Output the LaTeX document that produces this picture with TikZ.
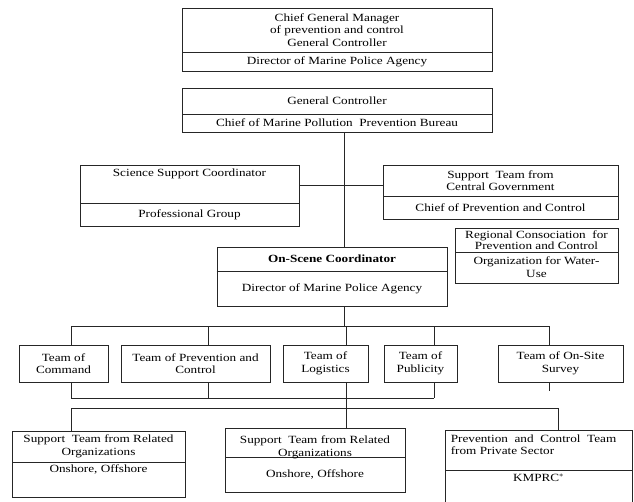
\documentclass[tikz,border=0pt]{standalone}
\usepackage{fontspec}
\setmainfont{Liberation Serif}[FakeStretch=1.2]
\begin{document}
\begin{tikzpicture}[x=1pt,y=-1pt,
  part/.style={draw=black!85, line width=0.8pt, inner sep=0pt, rectangle},
  txt/.style={font=\fontsize{11}{12.5}\selectfont, align=center, inner sep=0pt},
  con/.style={draw=black!85, line width=0.8pt}]
\useasboundingbox (0,0) rectangle (634,501);
% top box A
\node[part, minimum width=310pt, minimum height=44pt] (a1) at (337,30) {};
\node[part, minimum width=310pt, minimum height=19pt] (a2) at (337,61.5) {};
\node[txt] (a1t) at (a1) {Chief General Manager\\of prevention and control\\General Controller};
\node[txt] (a2t) at (a2) {Director of Marine Police Agency};
% box B
\node[part, minimum width=310pt, minimum height=26pt] (b1) at (337,101) {};
\node[part, minimum width=310pt, minimum height=18pt] (b2) at (337,123) {};
\node[txt] (b1t) at (b1) {General Controller};
\node[txt] (b2t) at (b2) {Chief of Marine Pollution\ \ Prevention Bureau};
% science
\node[part, minimum width=219pt, minimum height=38pt] (c1) at (189.5,184) {};
\node[part, minimum width=219pt, minimum height=23pt] (c2) at (189.5,214.5) {};
\node[txt, anchor=north] (c1t) at ([yshift=-4pt]c1.north) {Science\ Support\ Coordinator};
\node[txt] (c2t) at (c2) {Professional Group};
% support team central gov
\node[part, minimum width=235pt, minimum height=31pt] (d1) at (500.5,180.5) {};
\node[part, minimum width=235pt, minimum height=23pt] (d2) at (500.5,207.5) {};
\node[txt] (d1t) at (d1) {Support\ \ Team from\\Central Government};
\node[txt] (d2t) at (d2) {Chief of Prevention and Control};
% regional
\node[part, minimum width=163pt, minimum height=24pt] (e1) at (536.5,240) {};
\node[part, minimum width=163pt, minimum height=31pt] (e2) at (536.5,267.5) {};
\node[txt, font=\fontsize{11}{11.5}\selectfont] (e1t) at (e1) {Regional\ Consociation\ \ for\\Prevention and Control};
\node[txt, font=\fontsize{11}{13}\selectfont] (e2t) at (e2) {Organization for Water-\\Use};
% on-scene
\node[part, minimum width=230pt, minimum height=24pt] (f1) at (332,259) {};
\node[part, minimum width=230pt, minimum height=35pt] (f2) at (332,288.5) {};
\draw[line width=1.3pt, black!85, dash pattern=on 1.5pt off 0.4pt] (f1.south west) -- (f1.south east);
\node[txt, font=\bfseries\fontsize{11}{12.5}\selectfont] (f1t) at (f1) {On-Scene Coordinator};
\node[txt] (f2t) at (f2) {Director of Marine Police Agency};
% teams
\node[part, minimum width=89pt, minimum height=37pt] (t1) at (63.5,363.5) {};
\node[part, minimum width=149pt, minimum height=37pt] (t2) at (195.5,363.5) {};
\node[part, minimum width=85pt, minimum height=37pt] (t3) at (325.5,363.5) {};
\node[part, minimum width=73pt, minimum height=37pt] (t4) at (420.5,363.5) {};
\node[part, minimum width=125pt, minimum height=37pt] (t5) at (560.5,363.5) {};
\node[txt] (t1t) at (t1) {Team of\\Command};
\node[txt] (t2t) at (t2) {Team of Prevention and\\Control};
\node[txt] (t3t) at (t3) {Team of\\Logistics};
\node[txt] (t4t) at (t4) {Team of\\Publicity};
\node[txt] (t5t) at (t5) {Team of On-Site\\Survey};
% bottom boxes
\node[part, minimum width=173pt, minimum height=31pt] (g1) at (98.5,446.5) {};
\node[part, minimum width=173pt, minimum height=35pt] (g2) at (98.5,479.5) {};
\node[txt] (g1t) at (g1) {Support\ \ Team from Related\\Organizations};
\node[txt, anchor=north] (g2t) at ([yshift=-3pt]g2.north) {Onshore, Offshore};
\node[part, minimum width=180pt, minimum height=29pt] (h1) at (315,442.5) {};
\node[part, minimum width=180pt, minimum height=35pt] (h2) at (315,474.5) {};
\node[txt, anchor=south] (h1t) at ([yshift=-1.5pt]h1.south) {Support\ \ Team from Related\\Organizations};
\node[txt] (h2t) at (h2) {Onshore, Offshore};
\node[part, minimum width=187pt, minimum height=40pt] (k1) at (538.5,450) {};
\node[part, minimum width=187pt, minimum height=35pt] (k2) at (538.5,487.5) {};
\node[txt, anchor=north west, align=left] (k1t) at ([xshift=6pt,yshift=-5pt]k1.north west) {Prevention\ \ and\ \ Control\ \ Team\\from Private Sector};
\node[txt, anchor=north] (k2t) at ([yshift=-4pt]k2.north) {KMPRC$^{*}$};
% connector coordinates
\coordinate (sp) at (344,0);
\coordinate (hy) at (0,185);
\coordinate (tl) at (0,326);
\coordinate (ul) at (0,398);
\coordinate (ll) at (0,408);
\coordinate (x1) at (71,0);
\coordinate (x2) at (208,0);
\coordinate (x3) at (346,0);
\coordinate (x4) at (434,0);
\coordinate (x5) at (549,0);
\coordinate (x6) at (558,0);
\coordinate (st) at (549,391);
% connectors
\draw[con] (b2.south -| sp) -- (f1.north -| sp);
\draw[con] (c1.east |- hy) -- (d1.west |- hy);
\draw[con] (f2.south -| sp) -- (sp |- tl);
\draw[con] (x1 |- tl) -- (x5 |- tl);
\foreach \i/\t in {x1/t1,x2/t2,x3/t3,x4/t4,x5/t5}
  \draw[con] (\i |- tl) -- (\t.north -| \i);
\foreach \i/\t in {x1/t1,x2/t2,x3/t3,x4/t4}
  \draw[con] (\t.south -| \i) -- (\i |- ul);
\draw[con] (t5.south -| x5) -- (st);
\draw[con] (x1 |- ul) -- (x4 |- ul);
\draw[con] (x3 |- ul) -- (x3 |- ll);
\draw[con] (x1 |- ll) -- (x6 |- ll);
\draw[con] (x1 |- ll) -- (g1.north -| x1);
\draw[con] (x3 |- ll) -- (h1.north -| x3);
\draw[con] (x6 |- ll) -- (k1.north -| x6);
\end{tikzpicture}
\end{document}
